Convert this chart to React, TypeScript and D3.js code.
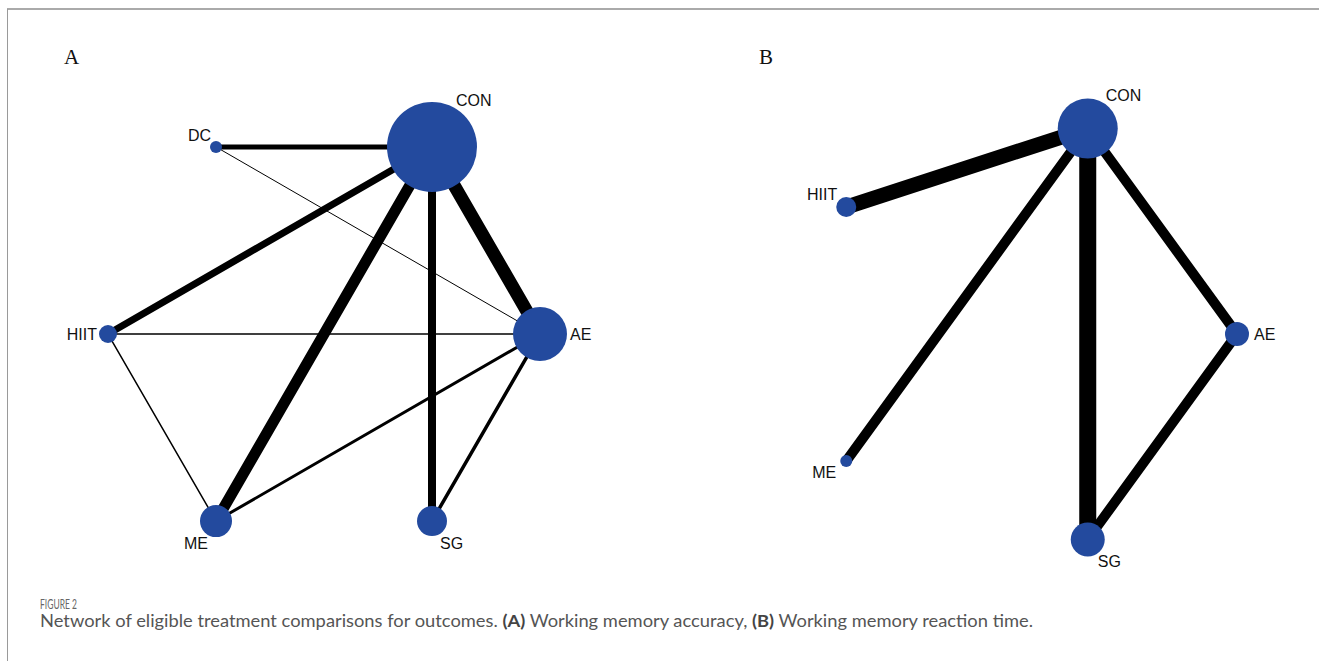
import React, { useEffect } from "react";
import * as d3 from "d3";

// ---------- Data ----------
// Panel A: working memory accuracy
const nodesA = ["CON", "AE", "SG", "ME", "HIIT", "DC"];
const nodeSizeA = [45, 27, 15, 16, 9, 6]; // relative node size (radius units)
const edgesA: [string, string, number][] = [
  ["CON", "AE", 13],
  ["CON", "ME", 11],
  ["CON", "SG", 8],
  ["CON", "HIIT", 7],
  ["CON", "DC", 5],
  ["AE", "SG", 3.5],
  ["ME", "AE", 3],
  ["HIIT", "AE", 1.5],
  ["HIIT", "ME", 1.5],
  ["DC", "AE", 1],
];

// Panel B: working memory reaction time
const nodesB = ["CON", "AE", "SG", "ME", "HIIT"];
const nodeSizeB = [30, 12, 17, 6, 10];
const edgesB: [string, string, number][] = [
  ["CON", "HIIT", 15],
  ["CON", "ME", 10],
  ["CON", "SG", 17],
  ["CON", "AE", 10],
  ["AE", "SG", 10],
];

const panelLabels = ["A", "B"];
const figureLabel = "FIGURE 2";
const captionParts = [
  { t: "Network of eligible treatment comparisons for outcomes. ", b: false },
  { t: "(A)", b: true },
  { t: " Working memory accuracy, ", b: false },
  { t: "(B)", b: true },
  { t: " Working memory reaction time.", b: false },
];

// ---------- Layout (styles / positions) ----------
const NODE_COLOR = "#234a9e";
const panelLayout = [
  { cx: 324, cy: 334, R: 216, startAngle: -60 },
  { cx: 1021, cy: 334, R: 216, startAngle: -72 },
];
// label placement per node: [dx, dy, anchor]
const labelPosA: Record<string, [number, number, string]> = {
  CON: [24, -41, "start"],
  DC: [-5, -6, "end"],
  HIIT: [-11, 6, "end"],
  AE: [30, 6, "start"],
  ME: [-8, 28, "end"],
  SG: [8, 28, "start"],
};
const labelPosB: Record<string, [number, number, string]> = {
  CON: [18, -28, "start"],
  HIIT: [-9, -7, "end"],
  AE: [17, 6, "start"],
  ME: [-10, 17, "end"],
  SG: [10, 28, "start"],
};

function Network({
  nodes,
  sizes,
  edges,
  layout,
  labelPos,
}: {
  nodes: string[];
  sizes: number[];
  edges: [string, string, number][];
  layout: { cx: number; cy: number; R: number; startAngle: number };
  labelPos: Record<string, [number, number, string]>;
}) {
  const n = nodes.length;
  const angle = d3.scaleLinear().domain([0, n]).range([0, 360]);
  const rScale = d3.scaleLinear().domain([0, 1]).range([0, 1]);
  const wScale = d3.scaleLinear().domain([0, 1]).range([0, 1]);
  const pos: Record<string, { x: number; y: number; r: number }> = {};
  nodes.forEach((name, i) => {
    const a = ((layout.startAngle + angle(i)) * Math.PI) / 180;
    pos[name] = {
      x: layout.cx + layout.R * Math.cos(a),
      y: layout.cy + layout.R * Math.sin(a),
      r: rScale(sizes[i]),
    };
  });
  return (
    <g>
      {edges.map(([s, t, w], i) => (
        <line
          key={i}
          x1={pos[s].x}
          y1={pos[s].y}
          x2={pos[t].x}
          y2={pos[t].y}
          stroke="#000"
          strokeWidth={wScale(w)}
          strokeLinecap="round"
        />
      ))}
      {nodes.map((name) => (
        <circle key={name} cx={pos[name].x} cy={pos[name].y} r={pos[name].r} fill={NODE_COLOR} />
      ))}
      {nodes.map((name) => {
        const [dx, dy, anchor] = labelPos[name];
        return (
          <text
            key={"l" + name}
            x={pos[name].x + dx}
            y={pos[name].y + dy}
            textAnchor={anchor as any}
            fontFamily="'Liberation Sans', Arial, sans-serif"
            fontSize={16}
            fill="#111"
          >
            {name}
          </text>
        );
      })}
    </g>
  );
}

export default function App() {
  useEffect(() => {
    document.body.style.margin = "0";
  }, []);
  return (
    <svg width={1319} height={661} style={{ display: "block", background: "#fff" }}>
      <rect x={0} y={0} width={1319} height={661} fill="#fff" />
      <line x1={7} y1={9} x2={1319} y2={9} stroke="#aaaaaa" strokeWidth={2} />
      <line x1={7.5} y1={9} x2={7.5} y2={661} stroke="#9a9a9a" strokeWidth={1} />

      <text x={64} y={64} fontFamily="'Liberation Serif', 'Times New Roman', serif" fontSize={21} fill="#111">
        {panelLabels[0]}
      </text>
      <text x={759} y={64} fontFamily="'Liberation Serif', 'Times New Roman', serif" fontSize={21} fill="#111">
        {panelLabels[1]}
      </text>

      <Network nodes={nodesA} sizes={nodeSizeA} edges={edgesA} layout={panelLayout[0]} labelPos={labelPosA} />
      <Network nodes={nodesB} sizes={nodeSizeB} edges={edgesB} layout={panelLayout[1]} labelPos={labelPosB} />

      <text x={40} y={609} fontFamily="Lato, 'Open Sans', sans-serif" fontSize={14} fill="#666" textLength={37} lengthAdjust="spacingAndGlyphs">
        {figureLabel}
      </text>
      <text x={40} y={627} fontFamily="Lato, 'Open Sans', sans-serif" fontSize={17} fill="#555" textLength={993} lengthAdjust="spacingAndGlyphs">
        {captionParts.map((p, i) => (
          <tspan key={i} fontWeight={p.b ? 700 : 400} fill={p.b ? "#444" : "#555"}>
            {p.t}
          </tspan>
        ))}
      </text>
    </svg>
  );
}
